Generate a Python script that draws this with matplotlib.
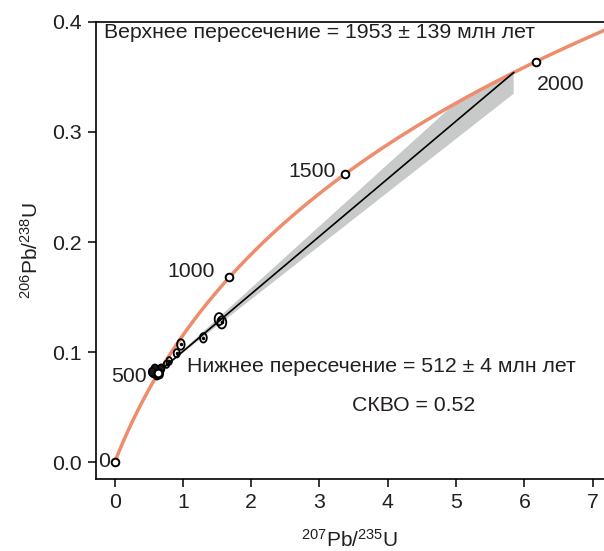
import numpy as np
import matplotlib
matplotlib.use("Agg")
import matplotlib.pyplot as plt
from matplotlib.patches import Ellipse, Polygon

plt.rcParams['font.family'] = ['Liberation Sans', 'DejaVu Sans']
plt.rcParams['mathtext.fontset'] = 'custom'
plt.rcParams['mathtext.rm'] = 'Liberation Sans'
plt.rcParams['mathtext.default'] = 'regular'

# decay constants (1/Ma)
lam238 = 1.55125e-4
lam235 = 9.8485e-4

# concordia age marks (Ma)
age_marks = [0, 500, 1000, 1500, 2000]
age_labels = ["0", "500", "1000", "1500", "2000"]
label_offsets = [(-5, 1), (-11, -3), (-14, 6), (-10, 2), (1, -23)]
label_ha = ["right", "right", "right", "right", "left"]

# intercepts (Ma)
lower_age, lower_err = 512, 4
upper_age, upper_err = 1953, 139
mswd = 0.52

# analyses: 207Pb/235U, 206Pb/238U, ellipse width, height
cluster_x = [0.57, 0.61, 0.65, 0.62, 0.68, 0.59, 0.66, 0.55]
cluster_y = [0.081, 0.083, 0.082, 0.079, 0.085, 0.085, 0.080, 0.082]
spot_x = [0.76, 0.80, 0.91, 0.97, 1.30, 1.53, 1.57]
spot_y = [0.089, 0.092, 0.099, 0.107, 0.113, 0.130, 0.127]
spot_w = [0.08, 0.08, 0.09, 0.11, 0.10, 0.13, 0.13]
spot_h = [0.0065, 0.007, 0.0075, 0.0095, 0.0085, 0.011, 0.011]

TXT = '#231f20'
FS = 15.3


def conc(t):
    t = np.asarray(t, dtype=float)
    return np.exp(lam235 * t) - 1, np.exp(lam238 * t) - 1


fig = plt.figure(figsize=(6.04, 5.51), dpi=100)
ax = fig.add_axes([95.5 / 604, 71.7 / 551, 508.5 / 604, 457.6 / 551])

# error envelope of the discordia
x_lo, y_lo = conc(lower_age)
x_up, y_up = conc(upper_age)
t_min = upper_age - upper_err
x_max, y_max = conc(upper_age + upper_err)
slope_min = (y_max - y_lo) / (x_max - x_lo)
arc_t = np.linspace(t_min, upper_age, 40)
arc_x, arc_y = conc(arc_t)
band = [(x_lo, y_lo)] + list(zip(arc_x, arc_y)) + [(x_up, y_lo + slope_min * (x_up - x_lo))]
ax.add_patch(Polygon(band, closed=True, facecolor='#c8c9c9', edgecolor='none', zorder=1))

# concordia
tt = np.linspace(0, 2300, 400)
cx, cy = conc(tt)
ax.plot(cx, cy, color='#ee8c6c', lw=2.5, zorder=2)

# discordia
ax.plot([x_lo, x_up], [y_lo, y_up], color='black', lw=1.2, zorder=3)

# data ellipses
for x, y in zip(cluster_x, cluster_y):
    ax.add_patch(Ellipse((x, y), 0.1, 0.0078, facecolor='#1a1a1a', edgecolor='black', lw=1.2, zorder=4))
for x, y, w, h in zip(spot_x, spot_y, spot_w, spot_h):
    ax.add_patch(Ellipse((x, y), w, h, facecolor='none', edgecolor='black', lw=1.3, zorder=4))
    ax.plot(x, y, 'o', color='black', ms=1.5, zorder=5)

# age marks
mx, my = conc(age_marks)
ax.plot(mx, my, 'o', mfc='white', mec='black', mew=1.4, ms=5.5, zorder=6)
for x, y, lab, off, ha in zip(mx, my, age_labels, label_offsets, label_ha):
    ax.annotate(lab, (x, y), xytext=(off[0] * 0.72, off[1] * 0.72), textcoords='offset points',
                ha=ha, va='center', fontsize=FS, color=TXT)

ax.text(-0.157, 0.3898, "Верхнее пересечение = %d ± %d млн лет" % (upper_age, upper_err),
        fontsize=FS, va='center', ha='left', color=TXT)
ax.text(1.06, 0.0874, "Нижнее пересечение = %d ± %d млн лет" % (lower_age, lower_err),
        fontsize=FS, va='center', ha='left', color=TXT)
ax.text(3.47, 0.052, "СКВО = %.2f" % mswd, fontsize=FS, va='center', ha='left', color=TXT)

ax.set_xlim(-0.28, 7.167)
ax.set_ylim(-0.0154, 0.4)
ax.set_xticks(range(0, 8))
ax.set_yticks([0.0, 0.1, 0.2, 0.3, 0.4])
ax.set_yticklabels(["0.0", "0.1", "0.2", "0.3", "0.4"])
ax.tick_params(direction='out', length=6, width=1.1, pad=4, labelsize=FS, colors='black', labelcolor=TXT)
for s in ['left', 'bottom', 'top']:
    ax.spines[s].set_linewidth(1.2)
ax.spines['right'].set_visible(False)

ax.set_xlabel('$^{207}$Pb/$^{235}$U', fontsize=15, color=TXT, labelpad=12)
ax.set_ylabel('$^{206}$Pb/$^{238}$U', fontsize=15, color=TXT, labelpad=7)

fig.savefig('out.png', dpi=100)
